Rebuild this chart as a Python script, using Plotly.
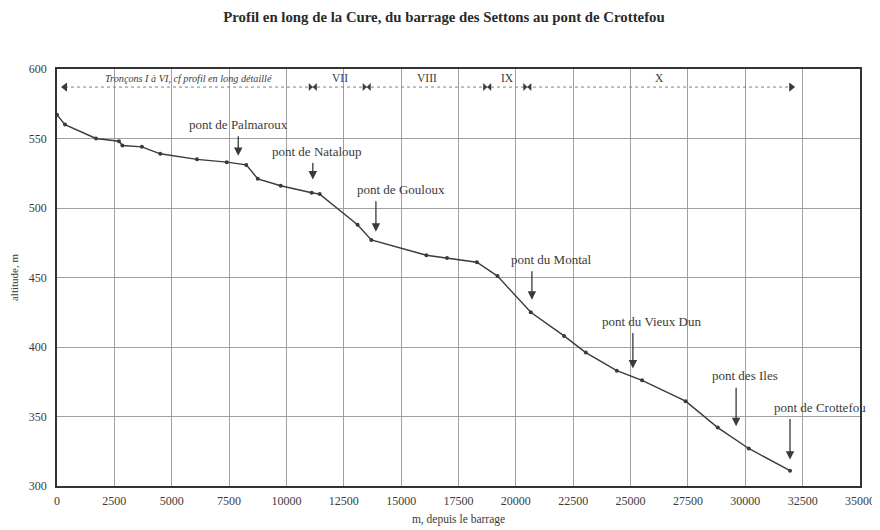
import plotly.graph_objects as go

# --- Profil en long (distance depuis le barrage, m ; altitude, m) ---
distance_m = [0, 350, 1700, 2700, 2850, 3700, 4500, 6100, 7400, 8250, 8750,
              9750, 11100, 11450, 13100, 13700, 16100, 17000, 18300, 19200,
              20650, 22100, 23050, 24400, 25500, 27400, 28800, 30150, 31950]
altitude_m = [567, 560, 550, 548, 545, 544, 539, 535, 533, 531, 521,
              516, 511, 510, 488, 477, 466, 464, 461, 451,
              425, 408, 396, 383, 376, 361, 342, 327, 311]

# --- Ponts (position de la flèche, altitude de la pointe) ---
ponts = ["pont de Palmaroux", "pont de Nataloup", "pont de Gouloux",
         "pont du Montal", "pont du Vieux Dun", "pont des Iles",
         "pont de Crottefou"]
ponts_x = [7900, 11150, 13900, 20700, 25100, 29600, 31950]
ponts_alt = [537.5, 520.5, 483, 434, 384.5, 343, 319]

# --- Tronçons ---
troncons = ["Tronçons I à VI, cf profil en long détaillé", "VII", "VIII", "IX", "X"]
troncons_bornes = [350, 11150, 13500, 18750, 20500, 32000]
troncons_alt = 587

x_ticks = list(range(0, 35001, 2500))
y_ticks = [300, 350, 400, 450, 500, 550, 600]

SERIF = "Liberation Serif, Times New Roman, serif"
ENCRE = "#3a3a3a"
GRILLE = "#a0a0a0"

fig = go.Figure()

# courbe du profil
fig.add_trace(go.Scatter(
    x=distance_m, y=altitude_m,
    mode="lines+markers",
    line=dict(color=ENCRE, width=1.4),
    marker=dict(size=4, color=ENCRE),
    showlegend=False,
))

# ligne pointillée des tronçons
fig.add_trace(go.Scatter(
    x=[troncons_bornes[0], troncons_bornes[-1]],
    y=[troncons_alt, troncons_alt],
    mode="lines",
    line=dict(color="#808080", width=1, dash="dot"),
    showlegend=False, hoverinfo="skip",
))

# têtes de flèche : début, séparateurs (bowtie), fin
symboles = ["triangle-left"] + ["bowtie"] * (len(troncons_bornes) - 2) + ["triangle-right"]
fig.add_trace(go.Scatter(
    x=troncons_bornes,
    y=[troncons_alt] * len(troncons_bornes),
    mode="markers",
    marker=dict(symbol=symboles, size=8, color=ENCRE),
    showlegend=False, hoverinfo="skip",
))

annotations = []

# étiquettes des tronçons
for i, nom in enumerate(troncons):
    milieu = (troncons_bornes[i] + troncons_bornes[i + 1]) / 2
    if i == 0:
        txt = "<i>" + nom + "</i>"
        size = 10.2
    else:
        txt = nom
        size = 11.5
    annotations.append(dict(
        x=milieu, y=troncons_alt, text=txt, showarrow=False,
        yanchor="bottom", yshift=1,
        font=dict(family=SERIF, size=size, color=ENCRE),
    ))

# flèches et noms des ponts
longueurs = [21, 18, 32, 30, 37, 40, 42]
decalages = [0, 4, 25, 20, 19, 9, 30]
for nom, px, pa, lg, dx in zip(ponts, ponts_x, ponts_alt, longueurs, decalages):
    annotations.append(dict(
        x=px, y=pa, text="", showarrow=True,
        ax=0, ay=-lg, arrowhead=2, arrowsize=1.3, arrowwidth=1.3,
        arrowcolor=ENCRE,
    ))
    annotations.append(dict(
        x=px, y=pa, text=nom, showarrow=False,
        yanchor="bottom", yshift=lg + 1, xshift=dx,
        font=dict(family=SERIF, size=13, color=ENCRE),
    ))

# la page ajoute une marge de 8 px autour de la figure
fig.update_layout(
    width=872, height=522,
    title=dict(
        text="<b>Profil en long de la Cure, du barrage des Settons au pont de Crottefou</b>",
        font=dict(family=SERIF, size=14.8, color="#2a2a2a"),
        x=0.5, xanchor="center", y=0.983, yanchor="middle",
        yref="container",
    ),
    paper_bgcolor="white",
    plot_bgcolor="white",
    margin=dict(l=49, r=20, t=61, b=44),
    font=dict(family=SERIF, color=ENCRE),
    annotations=annotations,
    xaxis=dict(
        range=[0, 35000],
        tickvals=x_ticks,
        ticktext=[str(v) for v in x_ticks],
        tickfont=dict(family=SERIF, size=12, color=ENCRE),
        ticks="", ticklabelstandoff=3,
        showgrid=True, gridcolor=GRILLE, gridwidth=1,
        showline=True, linecolor="#333333", linewidth=1.5, mirror=True,
        zeroline=False, automargin=False,
        title=dict(text="m, depuis le barrage",
                   font=dict(family=SERIF, size=11.5, color=ENCRE), standoff=8),
    ),
    yaxis=dict(
        range=[300, 600],
        tickvals=y_ticks,
        tickfont=dict(family=SERIF, size=12, color=ENCRE),
        ticks="", ticklabelstandoff=6,
        showgrid=True, gridcolor=GRILLE, gridwidth=1,
        showline=True, linecolor="#333333", linewidth=1.5, mirror=True,
        zeroline=False, automargin=False,
        title=dict(text="altitude, m",
                   font=dict(family=SERIF, size=11, color=ENCRE), standoff=8),
    ),
)

fig.write_html("out.html")
